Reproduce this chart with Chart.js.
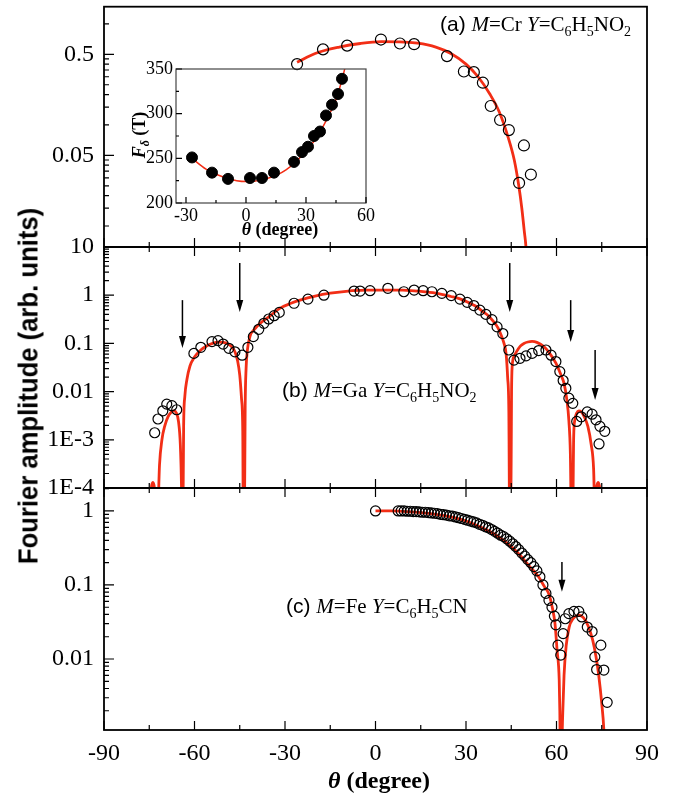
<!DOCTYPE html>
<html>
<head>
<meta charset="utf-8">
<script src="https://cdn.jsdelivr.net/npm/chart.js@4.4.0/dist/chart.umd.min.js"></script>
<style>
  body { margin: 0; background: #fff; }
  #wrap { position: relative; width: 680px; height: 795px; overflow: hidden; background: #fff; }
  #wrap canvas { position: absolute; left: 0; }
  #ytitle { position: absolute; left: 29px; top: 386px; transform: translate(-50%, -50%) rotate(-90deg) scaleX(0.95);
            white-space: nowrap; font: bold 27px "Liberation Sans", Arial, sans-serif; color: #000; }
</style>
</head>
<body>
<div id="wrap">
  <canvas id="panelA" width="680" height="260" style="top:0px"></canvas>
  <canvas id="inset" width="260" height="195" style="top:55px; left:120px"></canvas>
  <canvas id="panelB" width="680" height="280" style="top:225px"></canvas>
  <canvas id="panelC" width="680" height="330" style="top:465px"></canvas>
  <div id="ytitle">Fourier amplitude (arb. units)</div>
</div>
<script>
const SERIF = '"Liberation Serif", "Times New Roman", serif';
const SANS = '"Liberation Sans", Arial, sans-serif';
const RED = 'rgb(242, 46, 22)';

// ---- panel (a) M=Cr
const thetaA = [-26, -17.4, -9.4, 1.8, 8.1, 12.8, 23.7, 29.3, 32.6, 35.6, 38.2, 41.3, 44.2, 49.2, 47.6, 51.5];
const ampA = [0.40, 0.56, 0.61, 0.70, 0.64, 0.63, 0.48, 0.338, 0.333, 0.262, 0.154, 0.112, 0.089, 0.0627, 0.0267, 0.0323];
const fitAX = [-26, -20, -12, -5, 2, 8, 14, 20, 25, 30, 34, 38, 41, 44, 46, 47.5, 48.5, 49.3, 50, 50.6];
const fitAY = [0.418, 0.51, 0.59, 0.64, 0.667, 0.665, 0.645, 0.59, 0.51, 0.40, 0.30, 0.20, 0.135, 0.075, 0.045, 0.025, 0.015, 0.009, 0.0055, 0.002];
const yTicksA = [0.05, 0.5];
const yLabelsA = ['0.05', '0.5'];

// ---- inset: F_delta vs theta
const insetX = [-27, -17, -9, 2, 8, 14, 24, 28, 31, 34, 37, 40, 43, 46, 48];
const insetY = [251, 234, 227, 228, 228, 234, 246, 257, 263, 275, 280, 298, 310, 322, 339];
const insetFitX = [-27, -20, -10, 0, 10, 20, 30, 35, 40, 45, 48, 50];
const insetFitY = [250, 238, 228, 224, 227, 237, 258, 272, 292, 316, 338, 356];
const insetXTicks = [-30, 0, 30, 60];
const insetYTicks = [200, 250, 300, 350];

// ---- panel (b) M=Ga
const thetaB = [-73.2, -72.1, -70.5, -69.2, -67.5, -65.9,
  -60.2, -57.9, -54.2, -52.2, -50.5, -48.6, -46.6, -44.2,
  -42.3, -40.5, -38.7, -37.0, -35.4, -33.6, -31.9, -27.0, -22.4, -17.1, -7.1, -5.1, -1.8, 4.1, 9.4, 12.8,
  15.8, 18.7, 22.0, 25.1, 28.0, 30.4, 32.6, 34.6, 36.6, 38.6, 40.3, 42.2,
  44.2, 45.9, 47.9, 49.9, 51.9, 54.1, 56.5, 58.2, 59.8, 61.1, 62.2, 63.1, 64.1, 65.4,
  66.7, 68.2, 70.2, 71.8, 73.1, 74.4, 74.1, 76.0];
const ampB = [1.4e-3, 2.7e-3, 4.0e-3, 5.5e-3, 5.1e-3, 4.2e-3,
  0.062, 0.083, 0.109, 0.114, 0.097, 0.079, 0.067, 0.057,
  0.083, 0.138, 0.196, 0.261, 0.321, 0.376, 0.44, 0.68, 0.83, 1.0, 1.22, 1.22, 1.24, 1.39, 1.18, 1.28,
  1.24, 1.18, 1.09, 0.98, 0.83, 0.71, 0.61, 0.49, 0.40, 0.31, 0.22, 0.16,
  0.073, 0.045, 0.049, 0.055, 0.062, 0.071, 0.073, 0.057, 0.042, 0.026, 0.017, 0.0117, 0.0073, 0.0057,
  0.0024, 0.0030, 0.0038, 0.0034, 0.0026, 0.0019, 8.2e-4, 1.5e-3];
const fitBX = [-76, -74.8, -74.3, -73.8, -73.3, -72.8, -72.3, -71.6, -70.8, -69.8, -68.8, -67.8, -66.8, -66.0, -65.3, -64.7, -64.3, -64.1,
  -63.9, -63.6, -63.2, -62.5, -61.5, -60, -58, -56, -54, -52, -50.5, -49, -47.5, -46.5, -45.7, -45, -44.4, -44, -43.8,
  -43.5, -43.2, -42.9, -42.5, -41.6, -40, -38.3, -35, -31.6, -28, -25, -20, -15, -9, -3, 3, 9, 15, 20, 25, 28, 31, 33.3,
  35.5, 37.3, 39, 40.6, 41.8, 42.6, 43.3, 43.8, 44.2, 44.5,
  44.8, 45.1, 45.3, 46, 46.6, 48, 49.2, 50.5, 51.9, 53.5, 55.8, 57.5, 59.8, 61.5, 62.5, 63.4, 64.1, 64.6, 65,
  65.3, 65.7, 66.1, 66.7, 67.4, 68.2, 69.1, 70.4, 71.5, 72.3, 72.8, 73.3, 73.8, 74.3, 74.8, 76];
const fitBY = [1e-5, 2e-5, 1e-4, 1.3e-4, 1e-4, 2e-5, 2e-5, 3e-4, 1e-3, 2e-3, 3e-3, 3.7e-3, 4e-3, 3.6e-3, 2.4e-3, 8e-4, 1e-4, 1e-5,
  1e-5, 0.002, 0.008, 0.018, 0.034, 0.052, 0.072, 0.088, 0.1, 0.106, 0.105, 0.098, 0.083, 0.065, 0.043, 0.022, 0.007, 0.0015, 1e-5,
  1e-5, 0.005, 0.03, 0.07, 0.14, 0.2, 0.26, 0.37, 0.54, 0.68, 0.79, 0.96, 1.1, 1.22, 1.27, 1.28, 1.27, 1.2, 1.1, 0.94, 0.84, 0.7, 0.59,
  0.46, 0.38, 0.29, 0.21, 0.14, 0.1, 0.06, 0.02, 0.004, 1e-5,
  1e-5, 0.01, 0.033, 0.055, 0.065, 0.088, 0.1, 0.107, 0.11, 0.105, 0.086, 0.065, 0.039, 0.022, 0.0148, 0.007, 0.0025, 5e-4, 1e-5,
  1e-5, 1.2e-3, 0.0026, 0.0036, 0.004, 0.0038, 0.0031, 0.0019, 8e-4, 2.5e-4, 2e-5, 1e-4, 1.3e-4, 1e-4, 2e-5, 1e-5];
const yTicksB = [1e-4, 1e-3, 0.01, 0.1, 1, 10];
const yLabelsB = ['1E-4', '1E-3', '0.01', '0.1', '1', '10'];
const arrowBX = [-64, -45, 44.5, 64.7, 72.8];
const arrowBTop = [0.79, 4.65, 4.65, 0.79, 0.073];
const arrowBBottom = [0.080, 0.45, 0.45, 0.107, 0.0067];

// ---- panel (c) M=Fe
const thetaC = [0, 7.5, 8.5, 9.5, 10.5, 11.5, 12.5, 13.5, 14.5, 15.5, 16.5, 17.5, 18.5, 19.5, 20.5, 21.5, 22.5, 23.5,
  24.5, 25.5, 26.5, 27.5, 28.5, 29.5, 30.5, 31.5, 32.5, 33.5, 34.5, 35.5, 36.5, 37.5, 38.5, 39.5, 40.5, 41.5, 42.5,
  43.5, 44.5, 45.5, 46.5, 47.5, 48.5, 49.5, 50.5, 51.5, 52.5, 53.5, 54.5, 55.5, 56.5, 57.5, 58.5, 59.3, 59.8, 60.5, 61.4,
  62.2, 62.9, 64.1, 65.8, 67.4, 68.4, 70.2, 71.8, 72.7, 73.3, 74.7, 75.7, 76.8];
const ampC = [1.0, 1.0, 1.0, 1.0, 0.99, 0.99, 0.98, 0.98, 0.97, 0.96, 0.96, 0.95, 0.94, 0.93, 0.92, 0.9, 0.89, 0.88,
  0.86, 0.85, 0.83, 0.81, 0.79, 0.77, 0.75, 0.73, 0.71, 0.69, 0.66, 0.64, 0.61, 0.59, 0.56, 0.53, 0.5, 0.47, 0.45,
  0.42, 0.39, 0.36, 0.33, 0.3, 0.27, 0.245, 0.22, 0.2, 0.177, 0.155, 0.129, 0.1, 0.077, 0.062, 0.05, 0.038, 0.029, 0.0154, 0.0113,
  0.022, 0.035, 0.041, 0.044, 0.044, 0.037, 0.027, 0.0235, 0.0107, 0.0072, 0.0154, 0.0071, 0.0026];
const fitCX = [0, 5, 10, 15, 20, 25, 30, 35, 40, 45, 48, 51, 54, 56, 57.5, 58.5, 59.5, 60.2, 60.9, 61.1, 61.3,
  61.6, 62.0, 62.5, 63.2, 64.2, 65.5, 66.5, 67.5, 69, 70.5, 72, 73.1, 74, 75, 75.7, 76.2];
const fitCY = [1.0, 1.0, 0.98, 0.95, 0.9, 0.83, 0.73, 0.6, 0.47, 0.33, 0.25, 0.18, 0.13, 0.095, 0.075, 0.052, 0.03, 0.013, 0.0052, 0.002, 0.0004,
  0.0004, 0.0015, 0.006, 0.015, 0.027, 0.035, 0.038, 0.039, 0.036, 0.028, 0.018, 0.0107, 0.006, 0.0025, 0.0011, 0.0003];
const yTicksC = [0.01, 0.1, 1];
const yLabelsC = ['0.01', '0.1', '1'];
const arrowCX = [61.8];
const arrowCTop = [0.205];
const arrowCBottom = [0.081];

const xTickVals = [-90, -60, -30, 0, 30, 60, 90];

function pts(xs, ys) { return xs.map((x, i) => ({ x: x, y: ys[i] })); }

function drawRich(ctx, x, y, parts, align) {
  let w = 0;
  parts.forEach(p => { ctx.font = p[1]; w += ctx.measureText(p[0]).width; });
  let cx = align === 'center' ? x - w / 2 : x;
  ctx.fillStyle = '#000';
  ctx.textBaseline = 'alphabetic';
  ctx.textAlign = 'left';
  parts.forEach(p => {
    ctx.font = p[1];
    ctx.fillText(p[0], cx, y + (p[2] || 0));
    cx += ctx.measureText(p[0]).width;
  });
}

function logTicks(base, min, max) {
  let out = [];
  for (let n = -6; n <= 2; n++) {
    for (let k = 1; k <= 9; k++) {
      let v = base * Math.pow(10, n) * k;
      if (v >= min * 0.999 && v <= max * 1.001) out.push({ v: v, len: k === 1 ? 10 : 5 });
    }
  }
  return out;
}

let xTicksMain = [];
for (let v = -90; v <= 90; v += 15) xTicksMain.push({ v: v, len: v % 30 === 0 ? 9 : 5 });

function deco(cfg) {
  return {
    id: 'deco',
    afterDatasetsDraw(chart) {
      const ctx = chart.ctx, a = chart.chartArea;
      const xs = chart.scales.x, ys = chart.scales.y;
      ctx.save();
      ctx.strokeStyle = cfg.frameColor || '#000';
      ctx.lineWidth = cfg.frameWidth || 1.8;
      ctx.strokeRect(a.left, a.top, a.right - a.left, a.bottom - a.top);
      ctx.strokeStyle = '#000';
      ctx.lineWidth = 1.2;
      ctx.beginPath();
      cfg.xTicks.forEach(t => {
        const px = xs.getPixelForValue(t.v);
        ctx.moveTo(px, a.bottom); ctx.lineTo(px, a.bottom - t.len);
        if (cfg.topTicks) { ctx.moveTo(px, a.top); ctx.lineTo(px, a.top + t.len); }
      });
      cfg.yTicks.forEach(t => {
        const py = ys.getPixelForValue(t.v);
        if (py < a.top - 0.5 || py > a.bottom + 0.5) return;
        ctx.moveTo(a.left, py); ctx.lineTo(a.left + t.len, py);
      });
      ctx.stroke();
      ctx.fillStyle = '#000';
      (cfg.arrows || []).forEach(ar => {
        const px = xs.getPixelForValue(ar.x);
        const y1 = ys.getPixelForValue(ar.top), y2 = ys.getPixelForValue(ar.bottom);
        ctx.lineWidth = 1.5;
        ctx.beginPath(); ctx.moveTo(px, y1); ctx.lineTo(px, y2 - 8); ctx.stroke();
        ctx.beginPath(); ctx.moveTo(px - 3.5, y2 - 12); ctx.lineTo(px + 3.5, y2 - 12); ctx.lineTo(px, y2); ctx.closePath(); ctx.fill();
      });
      (cfg.texts || []).forEach(tx => {
        ctx.save();
        ctx.translate(tx.x, tx.y);
        if (tx.rot) ctx.rotate(tx.rot);
        drawRich(ctx, 0, 0, tx.parts, tx.align);
        ctx.restore();
      });
      ctx.restore();
    }
  };
}

function yLog(min, max, vals, labels) {
  return {
    type: 'logarithmic', min: min, max: max,
    afterBuildTicks: s => { s.ticks = vals.map(v => ({ value: v })); },
    afterFit: s => { s.width = 104; s.paddingTop = 0; s.paddingBottom = 0; },
    grid: { display: false, drawTicks: false },
    border: { display: false },
    ticks: { autoSkip: false, padding: 10, color: '#000', font: { family: SERIF, size: 24 },
      callback: (v, i) => labels[i] }
  };
}

function arrowList(xs, tops, bottoms) {
  return xs.map((x, i) => ({ x: x, top: tops[i], bottom: bottoms[i] }));
}

function labelParts(tag, metal, tail) {
  const f = 21, sub = 14;
  let p = [[tag + ' ', `${f}px ${SANS}`], ['M', `italic ${f}px ${SERIF}`], ['=' + metal + ' ', `${f}px ${SERIF}`],
    ['Y', `italic ${f}px ${SERIF}`], ['=C', `${f}px ${SERIF}`], ['6', `${sub}px ${SERIF}`, 5],
    ['H', `${f}px ${SERIF}`], ['5', `${sub}px ${SERIF}`, 5]];
  tail.forEach(t => p.push(t[1] ? [t[0], `${sub}px ${SERIF}`, 5] : [t[0], `${f}px ${SERIF}`]));
  return p;
}

function circles(data, r) {
  return { data: data, showLine: false, pointRadius: r, borderWidth: 1.2, borderColor: '#000',
    backgroundColor: 'rgba(0,0,0,0)', order: 0 };
}
function curve(data, w) {
  return { data: data, showLine: true, pointRadius: 0, borderColor: RED, borderWidth: w,
    cubicInterpolationMode: 'monotone', clip: 0, order: 1 };
}

const common = {
  responsive: false, animation: false, devicePixelRatio: 1, events: [],
  plugins: { legend: { display: false }, tooltip: { enabled: false } }
};

// panel a
new Chart(document.getElementById('panelA'), {
  type: 'scatter',
  data: { datasets: [circles(pts(thetaA, ampA), 5.5), curve(pts(fitAX, fitAY), 2.8)] },
  options: Object.assign({}, common, {
    layout: { padding: { top: 4, right: 33, bottom: 13, left: 0 } },
    scales: { x: { type: 'linear', min: -90, max: 90, display: false }, y: yLog(0.0062, 1.48, yTicksA, yLabelsA) }
  }),
  plugins: [deco({ xTicks: xTicksMain, topTicks: false, yTicks: logTicks(0.5, 0.0062, 1.48),
    texts: [{ x: 440, y: 31, parts: labelParts('(a)', 'Cr', [['NO', 0], ['2', 1]]) }] })]
});

// inset
new Chart(document.getElementById('inset'), {
  type: 'scatter',
  data: { datasets: [
    { data: pts(insetX, insetY), showLine: false, pointRadius: 5.5, borderWidth: 1, borderColor: '#000', backgroundColor: '#000', order: 0 },
    curve(pts(insetFitX, insetFitY), 1.5)
  ] },
  options: Object.assign({}, common, {
    layout: { padding: { top: 14, right: 14, bottom: 0, left: 0 } },
    scales: {
      x: { type: 'linear', min: -35, max: 60,
        afterBuildTicks: s => { s.ticks = insetXTicks.map(v => ({ value: v })); },
        afterFit: s => { s.height = 47; },
        grid: { display: false, drawTicks: false }, border: { display: false },
        ticks: { autoSkip: false, maxRotation: 0, padding: 2, color: '#000', font: { family: SERIF, size: 18 } } },
      y: { type: 'linear', min: 200, max: 350,
        afterBuildTicks: s => { s.ticks = insetYTicks.map(v => ({ value: v })); },
        afterFit: s => { s.width = 56; s.paddingTop = 0; s.paddingBottom = 0; },
        grid: { display: false, drawTicks: false }, border: { display: false },
        ticks: { autoSkip: false, padding: 3, color: '#000', font: { family: SERIF, size: 18 } } }
    }
  }),
  plugins: [deco({ frameColor: '#444', frameWidth: 1.2,
    xTicks: [-30, -15, 0, 15, 30, 45, 60].map(v => ({ v: v, len: v % 30 === 0 ? 6 : 3 })),
    yTicks: [200, 225, 250, 275, 300, 325, 350].map(v => ({ v: v, len: v % 50 === 0 ? 6 : 3 })),
    texts: [
      { x: 160, y: 180, align: 'center', parts: [['θ', `italic bold 18px ${SERIF}`], [' (degree)', `bold 18px ${SERIF}`]] },
      { x: 25, y: 80, rot: -Math.PI / 2, align: 'center',
        parts: [['F', `italic bold 18px ${SERIF}`], ['δ', `italic bold 12px ${SERIF}`, 4], [' (T)', `bold 18px ${SERIF}`]] }
    ] })]
});

// panel b
new Chart(document.getElementById('panelB'), {
  type: 'scatter',
  data: { datasets: [circles(pts(thetaB, ampB), 5), curve(pts(fitBX, fitBY), 2.8)] },
  options: Object.assign({}, common, {
    layout: { padding: { top: 22, right: 33, bottom: 17, left: 0 } },
    scales: { x: { type: 'linear', min: -90, max: 90, display: false }, y: yLog(1e-4, 10, yTicksB, yLabelsB) }
  }),
  plugins: [deco({ xTicks: xTicksMain, topTicks: true, yTicks: logTicks(1, 1e-4, 10),
    arrows: arrowList(arrowBX, arrowBTop, arrowBBottom),
    texts: [{ x: 282, y: 172, parts: labelParts('(b)', 'Ga', [['NO', 0], ['2', 1]]) }] })]
});

// panel c
new Chart(document.getElementById('panelC'), {
  type: 'scatter',
  data: { datasets: [circles(pts(thetaC, ampC), 5), curve(pts(fitCX, fitCY), 2.8)] },
  options: Object.assign({}, common, {
    layout: { padding: { top: 23, right: 33, bottom: 0, left: 0 } },
    scales: {
      x: { type: 'linear', min: -90, max: 90,
        afterBuildTicks: s => { s.ticks = xTickVals.map(v => ({ value: v })); },
        afterFit: s => { s.height = 65; },
        grid: { display: false, drawTicks: false }, border: { display: false },
        ticks: { autoSkip: false, maxRotation: 0, padding: 9, color: '#000', font: { family: SERIF, size: 24 } } },
      y: yLog(0.0011, 2.04, yTicksC, yLabelsC)
    }
  }),
  plugins: [deco({ xTicks: xTicksMain, topTicks: true, yTicks: logTicks(1, 0.0011, 2.04),
    arrows: arrowList(arrowCX, arrowCTop, arrowCBottom),
    texts: [
      { x: 286, y: 148, parts: labelParts('(c)', 'Fe', [['CN', 0]]) },
      { x: 379, y: 323, align: 'center', parts: [['θ', `italic bold 24px ${SERIF}`], [' (degree)', `bold 24px ${SERIF}`]] }
    ] })]
});
</script>
</body>
</html>
